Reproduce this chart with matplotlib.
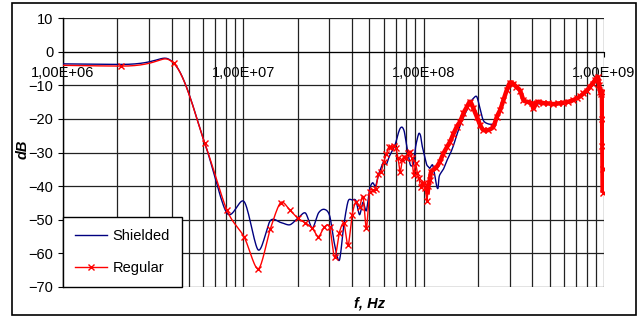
import numpy as np
import matplotlib
matplotlib.use("Agg")
import matplotlib.pyplot as plt
from matplotlib.patches import Rectangle
from matplotlib.lines import Line2D
from matplotlib.ticker import FixedLocator, FixedFormatter, LogLocator, NullFormatter

plt.rcParams['font.family'] = ['Liberation Sans', 'DejaVu Sans']

# Datos (frecuencia en MHz, respuesta en dB)
f_regular = [0.1, 2.1, 4.1, 6.1, 8.1, 10.1, 12.1, 14.1, 16.1, 18.1, 20.1, 22.1, 24.1, 26.1,
             28.1, 30.1, 32.1, 34.1, 36.1, 38.1, 40.1, 42.1, 44.1, 46.1, 48.1, 50.1, 52.1,
             54.1, 56.1, 58.1, 60.1, 62.1, 64.1, 66.1, 68.1, 70.1, 72.1, 74.1, 76.1, 78.1,
             80.1, 82.1, 84.1, 86.1, 88.1, 90.1, 92.1, 94.1, 96.1, 98.1, 100.1, 102.1, 104.1,
             106.1, 108.1, 110.1, 117.2, 123.0, 128.6, 134.3, 140.1, 146.1, 152.6, 159.2,
             166.1, 173.4, 180.9, 188.7, 197.0, 205.5, 214.4, 228.5, 243.6, 254.4, 265.3,
             276.7, 289.0, 301.5, 313.2, 325.4, 342.5, 357.3, 374.6, 397.8, 405.9, 417.5,
             432.7, 459.4, 491.6, 522.0, 558.6, 593.1, 634.6, 669.6, 706.5, 736.9, 768.6,
             802.7, 837.3, 864.5, 892.5, 924.0, 939.5, 951.7, 963.9, 972.5, 976.3, 979.0,
             981.2, 982.5]
db_regular = [-3.1, -4.3, -3.4, -27.1, -47.1, -55.1, -64.6, -52.8, -44.9, -47.1, -49.6, -50.9,
              -52.5, -55.0, -52.2, -52.2, -61.2, -53.8, -51.1, -57.6, -48.6, -44.6, -46.1,
              -43.1, -52.5, -41.8, -41.2, -40.9, -36.5, -35.7, -32.7, -30.5, -28.3, -28.5,
              -28.2, -28.8, -31.7, -35.7, -32.2, -31.2, -31.5, -30.0, -29.8, -31.7, -36.7,
              -33.2, -36.0, -37.7, -40.2, -39.0, -39.2, -40.5, -44.4, -40.0, -38.2, -35.7,
              -34.5, -32.7, -30.3, -28.5, -26.8, -24.5, -22.3, -20.8, -18.3, -16.5, -14.9,
              -16.9, -19.4, -21.8, -23.3, -23.3, -22.3, -19.4, -17.4, -14.5, -11.4, -9.2,
              -9.5, -10.4, -11.6, -14.4, -14.9, -15.4, -16.9, -15.6, -14.9, -15.3, -15.4,
              -15.6, -15.4, -15.2, -14.9, -14.5, -13.9, -13.3, -12.4, -11.6, -10.4, -9.5,
              -8.4, -7.5, -10.0, -11.9, -12.5, -12.0, -20.0, -28.0, -35.0, -42.0]

f_shielded = [0.1, 2.1, 4.1, 6.1, 8.1, 10.1, 12.1, 14.1, 16.1, 18.1, 20.1, 22.1, 24.1, 26.1,
              28.1, 30.1, 32.1, 34.1, 36.1, 38.1, 40.1, 42.1, 44.1, 46.1, 48.1, 50.1, 52.1,
              54.1, 56.1, 58.1, 60.1, 62.1, 64.1, 66.1, 68.1, 70.1, 72.1, 74.1, 76.1, 78.1,
              80.1, 82.1, 84.1, 86.1, 88.1, 90.1, 92.1, 94.1, 96.1, 98.1, 100.1, 102.1, 104.1,
              106.1, 108.1, 110.1, 112.1, 114.1, 116.1, 118.1, 120.1, 122.1, 128.6, 134.3,
              140.1, 146.1, 152.6, 159.2, 166.1, 173.4, 180.9, 188.7, 197.0, 205.5, 214.4,
              228.5, 243.6, 254.4, 265.3, 276.7, 289.0, 301.5, 313.2, 325.4, 342.5, 357.3,
              397.8, 459.4, 558.6, 669.6, 768.6, 837.3, 892.5, 924.0, 951.7, 963.9, 972.5,
              976.3, 981.0, 983.0]
db_shielded = [-3.0, -3.8, -3.3, -27.1, -48.0, -44.6, -59.0, -50.3, -50.8, -51.5, -49.5, -48.0,
               -52.5, -48.0, -46.9, -48.8, -57.5, -62.0, -51.5, -44.5, -44.1, -44.3, -48.5,
               -44.8, -47.3, -41.0, -39.0, -40.0, -36.7, -34.5, -32.7, -33.5, -31.5, -30.0,
               -28.8, -27.0, -24.5, -22.8, -22.5, -23.8, -27.5, -30.5, -33.5, -34.0, -33.0,
               -28.5, -26.0, -24.3, -25.0, -28.0, -30.0, -32.0, -33.7, -34.2, -34.7, -34.0,
               -33.7, -35.5, -37.7, -40.0, -40.6, -37.0, -35.0, -32.5, -30.5, -28.0, -24.8,
               -22.0, -19.5, -17.5, -15.2, -13.9, -13.4, -17.0, -20.5, -21.5, -21.5, -20.3,
               -17.9, -15.0, -12.0, -9.5, -9.8, -10.8, -12.0, -14.4, -15.4, -15.5, -15.5,
               -14.5, -12.4, -10.4, -8.5, -7.8, -12.5, -14.0, -16.0, -19.0, -26.0, -30.0]

xtick_vals = [1e6, 1e7, 1e8, 1e9]
xtick_labels = ['1,00E+06', '1,00E+07', '1,00E+08', '1,00E+09']
ytick_vals = [10, 0, -10, -20, -30, -40, -50, -60, -70]


def suavizar(x, y, n=16, k=7.0):
    # curva suavizada tipo Excel (Catmull-Rom en log f)
    P = np.column_stack([np.log10(x), y])
    Pe = np.vstack([P[0], P, P[-1]])
    t = np.linspace(0, 1, n, endpoint=False)[:, None]
    tramos = []
    for i in range(len(P) - 1):
        p0, p1, p2, p3 = Pe[i], Pe[i + 1], Pe[i + 2], Pe[i + 3]
        c1 = p1 + (p2 - p0) / k
        c2 = p2 - (p3 - p1) / k
        tramos.append((1 - t)**3 * p1 + 3 * (1 - t)**2 * t * c1 + 3 * (1 - t) * t**2 * c2 + t**3 * p2)
    tramos.append(P[-1:])
    S = np.vstack(tramos)
    return 10**S[:, 0], S[:, 1]


fr = np.array(f_regular) * 1e6
fs = np.array(f_shielded) * 1e6

fig = plt.figure(figsize=(6.43, 3.18), dpi=100)
ax = fig.add_axes([63 / 643, 1 - 287 / 318, 541 / 643, 269 / 318])

xs, ys = suavizar(fs, db_shielded)
ax.plot(xs, ys, color='#000080', lw=1.0, zorder=3)
xr, yr = suavizar(fr, db_regular)
ax.plot(xr, yr, color='#ff0000', lw=1.0, zorder=4)
# zona densa: los marcadores se solapan y forman una banda gruesa
denso = xr >= 105e6
ax.plot(xr[denso], yr[denso], color='#ff0000', lw=3.2, zorder=4, solid_capstyle='butt')
ax.plot(fr, db_regular, linestyle='none', marker='x', ms=4.5, mew=1.0, color='#ff0000', zorder=4)

ax.set_xscale('log')
ax.set_xlim(1e6, 1e9)
ax.set_ylim(-70, 10)

ax.xaxis.set_major_locator(FixedLocator(xtick_vals))
ax.xaxis.set_major_formatter(FixedFormatter(xtick_labels))
ax.xaxis.set_minor_locator(LogLocator(base=10, subs=np.arange(2, 10)))
ax.xaxis.set_minor_formatter(NullFormatter())
ax.set_yticks(ytick_vals)

ax.grid(True, which='both', axis='x', color='#222222', lw=0.9)
ax.grid(True, which='major', axis='y', color='#222222', lw=0.9)
ax.set_axisbelow(True)

for s in ['top', 'right']:
    ax.spines[s].set_visible(False)
ax.spines['bottom'].set_position(('data', 0))
ax.spines['bottom'].set_zorder(2)
ax.spines['left'].set_linewidth(1.0)

ax.tick_params(axis='x', which='major', direction='out', length=3.6, pad=7, labelsize=10.5)
ax.tick_params(axis='x', which='minor', length=0)
ax.tick_params(axis='y', direction='out', length=3.6, pad=3.4, labelsize=10.5)

fig.text(23 / 643, 1 - 149 / 318, 'dB', rotation=90, ha='center', va='center',
         fontsize=10.5, fontweight='bold', fontstyle='italic')
fig.text(370 / 643, 1 - 304 / 318, 'f, Hz', ha='center', va='center',
         fontsize=10.5, fontweight='bold', fontstyle='italic')

handles = [Line2D([], [], color='#000080', lw=1.0),
           Line2D([], [], color='#ff0000', lw=1.0, marker='x', ms=4, mew=1.0)]
leg = ax.legend(handles, ['Shielded', 'Regular'], loc='lower left', bbox_to_anchor=(0, 0),
                borderaxespad=0, fancybox=False, framealpha=1, edgecolor='black',
                fontsize=10.5, handlelength=2.2, labelspacing=1.25, borderpad=0.8,
                handletextpad=0.4, numpoints=1)
leg.get_frame().set_linewidth(1.0)
leg.set_zorder(6)

fig.patches.append(Rectangle((12 / 643, 1 - 315 / 318), 624 / 643, 312 / 318,
                             transform=fig.transFigure, fill=False, ec='black', lw=1.2))

plt.savefig("out.png", dpi=100)
